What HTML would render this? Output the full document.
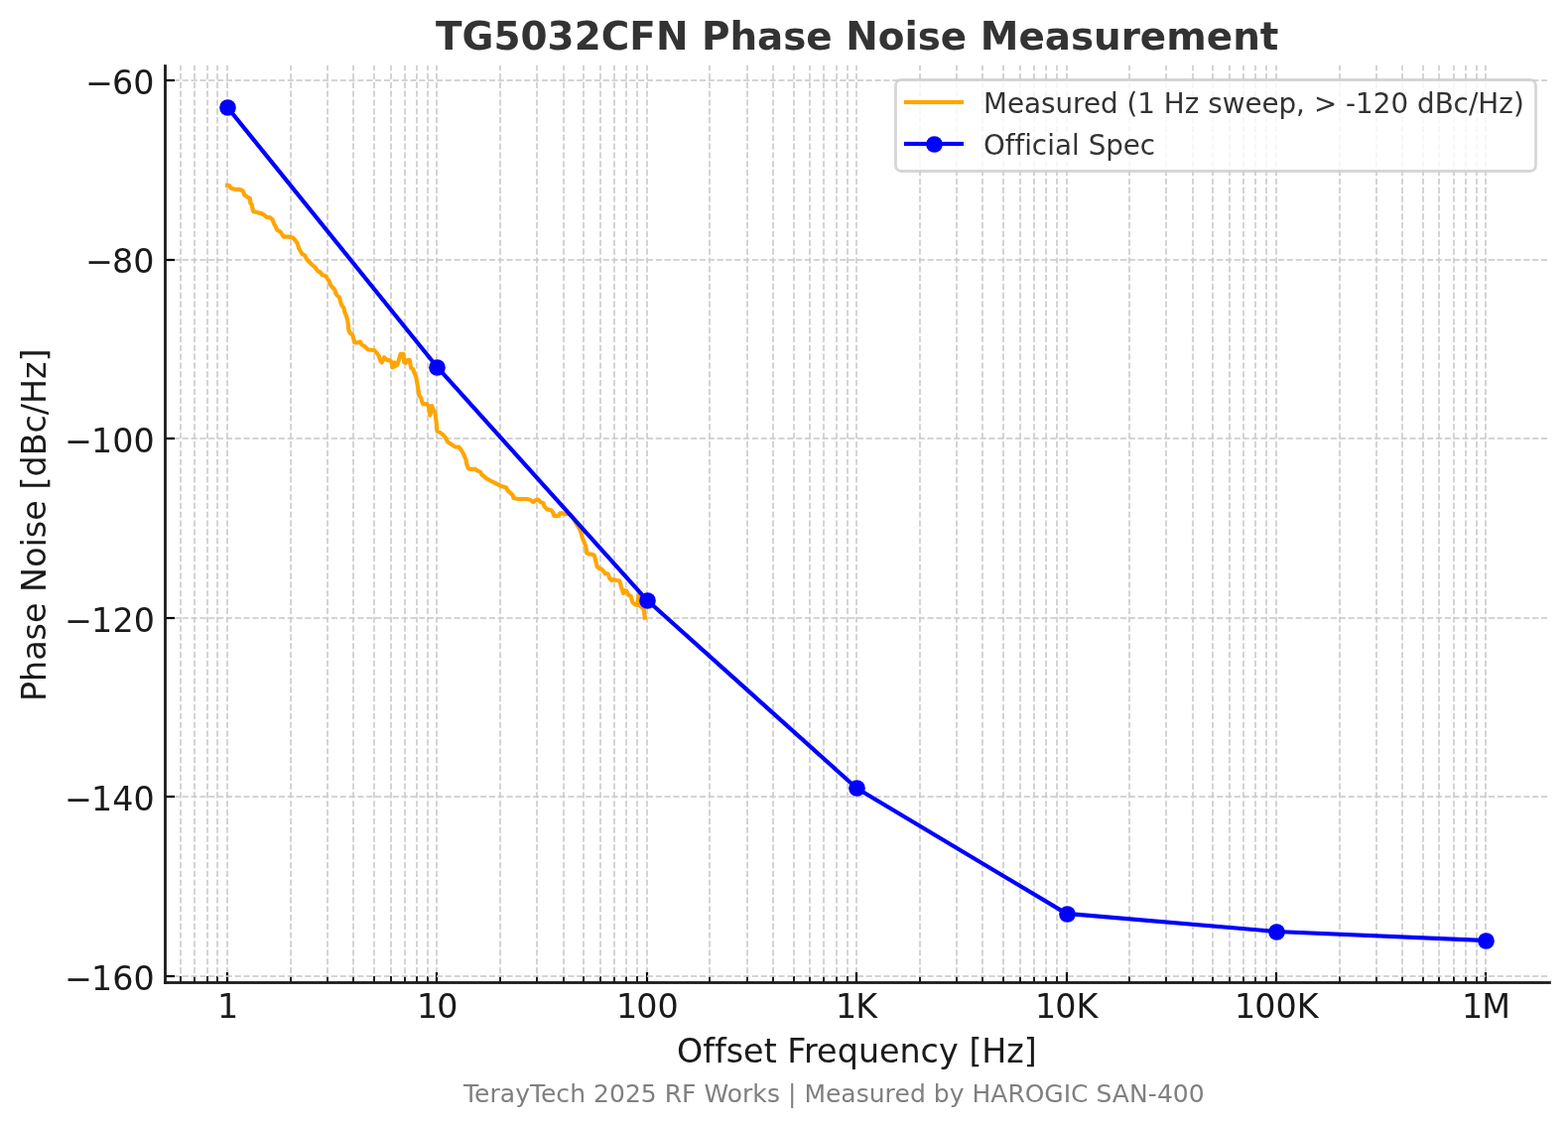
<!DOCTYPE html>
<html lang="en"><head><meta charset="utf-8">
<title>TG5032CFN Phase Noise Measurement</title>
<style>
html,body{margin:0;padding:0;background:#fff;}
body{width:1580px;height:1136px;overflow:hidden;}
svg{display:block;}
text{font-family:"DejaVu Sans","Liberation Sans",sans-serif;font-kerning:none;font-variant-ligatures:none;white-space:pre;}
</style></head><body>
<svg width="1580" height="1136" viewBox="0 0 1580 1136">
<rect x="0" y="0" width="1580" height="1136" fill="#ffffff"/>
<path d="M182 990V66M196 990V66M209 990V66M219 990V66M229 990V66M293 990V66M330 990V66M356 990V66M377 990V66M394 990V66M408 990V66M420 990V66M431 990V66M440 990V66M504 990V66M541 990V66M568 990V66M588 990V66M605 990V66M619 990V66M631 990V66M642 990V66M652 990V66M715 990V66M753 990V66M779 990V66M800 990V66M816 990V66M830 990V66M843 990V66M854 990V66M863 990V66M927 990V66M964 990V66M990 990V66M1011 990V66M1028 990V66M1042 990V66M1054 990V66M1065 990V66M1075 990V66M1138 990V66M1175 990V66M1202 990V66M1222 990V66M1239 990V66M1253 990V66M1265 990V66M1276 990V66M1286 990V66M1350 990V66M1387 990V66M1413 990V66M1434 990V66M1450 990V66M1465 990V66M1477 990V66M1488 990V66M1497 990V66" stroke="#cccccc" stroke-width="2" stroke-opacity="0.8335" stroke-dasharray="6.167 2.667" fill="none"/>
<g fill="#000000">
<rect x="181" y="984" width="2" height="6" fill-opacity="0.863"/>
<rect x="195" y="984" width="2" height="6" fill-opacity="0.863"/>
<rect x="208" y="984" width="2" height="6" fill-opacity="0.863"/>
<rect x="218" y="984" width="2" height="6" fill-opacity="0.863"/>
<rect x="228" y="980" width="2" height="10"/>
<rect x="227" y="980" width="4" height="10" fill-opacity="0.11"/>
<rect x="292" y="984" width="2" height="6" fill-opacity="0.863"/>
<rect x="329" y="984" width="2" height="6" fill-opacity="0.863"/>
<rect x="355" y="984" width="2" height="6" fill-opacity="0.863"/>
<rect x="376" y="984" width="2" height="6" fill-opacity="0.863"/>
<rect x="393" y="984" width="2" height="6" fill-opacity="0.863"/>
<rect x="407" y="984" width="2" height="6" fill-opacity="0.863"/>
<rect x="419" y="984" width="2" height="6" fill-opacity="0.863"/>
<rect x="430" y="984" width="2" height="6" fill-opacity="0.863"/>
<rect x="439" y="980" width="2" height="10"/>
<rect x="438" y="980" width="4" height="10" fill-opacity="0.11"/>
<rect x="503" y="984" width="2" height="6" fill-opacity="0.863"/>
<rect x="540" y="984" width="2" height="6" fill-opacity="0.863"/>
<rect x="567" y="984" width="2" height="6" fill-opacity="0.863"/>
<rect x="587" y="984" width="2" height="6" fill-opacity="0.863"/>
<rect x="604" y="984" width="2" height="6" fill-opacity="0.863"/>
<rect x="618" y="984" width="2" height="6" fill-opacity="0.863"/>
<rect x="630" y="984" width="2" height="6" fill-opacity="0.863"/>
<rect x="641" y="984" width="2" height="6" fill-opacity="0.863"/>
<rect x="651" y="980" width="2" height="10"/>
<rect x="650" y="980" width="4" height="10" fill-opacity="0.11"/>
<rect x="714" y="984" width="2" height="6" fill-opacity="0.863"/>
<rect x="752" y="984" width="2" height="6" fill-opacity="0.863"/>
<rect x="778" y="984" width="2" height="6" fill-opacity="0.863"/>
<rect x="799" y="984" width="2" height="6" fill-opacity="0.863"/>
<rect x="815" y="984" width="2" height="6" fill-opacity="0.863"/>
<rect x="829" y="984" width="2" height="6" fill-opacity="0.863"/>
<rect x="842" y="984" width="2" height="6" fill-opacity="0.863"/>
<rect x="853" y="984" width="2" height="6" fill-opacity="0.863"/>
<rect x="862" y="980" width="2" height="10"/>
<rect x="861" y="980" width="4" height="10" fill-opacity="0.11"/>
<rect x="926" y="984" width="2" height="6" fill-opacity="0.863"/>
<rect x="963" y="984" width="2" height="6" fill-opacity="0.863"/>
<rect x="989" y="984" width="2" height="6" fill-opacity="0.863"/>
<rect x="1010" y="984" width="2" height="6" fill-opacity="0.863"/>
<rect x="1027" y="984" width="2" height="6" fill-opacity="0.863"/>
<rect x="1041" y="984" width="2" height="6" fill-opacity="0.863"/>
<rect x="1053" y="984" width="2" height="6" fill-opacity="0.863"/>
<rect x="1064" y="984" width="2" height="6" fill-opacity="0.863"/>
<rect x="1074" y="980" width="2" height="10"/>
<rect x="1073" y="980" width="4" height="10" fill-opacity="0.11"/>
<rect x="1137" y="984" width="2" height="6" fill-opacity="0.863"/>
<rect x="1174" y="984" width="2" height="6" fill-opacity="0.863"/>
<rect x="1201" y="984" width="2" height="6" fill-opacity="0.863"/>
<rect x="1221" y="984" width="2" height="6" fill-opacity="0.863"/>
<rect x="1238" y="984" width="2" height="6" fill-opacity="0.863"/>
<rect x="1252" y="984" width="2" height="6" fill-opacity="0.863"/>
<rect x="1264" y="984" width="2" height="6" fill-opacity="0.863"/>
<rect x="1275" y="984" width="2" height="6" fill-opacity="0.863"/>
<rect x="1285" y="980" width="2" height="10"/>
<rect x="1284" y="980" width="4" height="10" fill-opacity="0.11"/>
<rect x="1349" y="984" width="2" height="6" fill-opacity="0.863"/>
<rect x="1386" y="984" width="2" height="6" fill-opacity="0.863"/>
<rect x="1412" y="984" width="2" height="6" fill-opacity="0.863"/>
<rect x="1433" y="984" width="2" height="6" fill-opacity="0.863"/>
<rect x="1449" y="984" width="2" height="6" fill-opacity="0.863"/>
<rect x="1464" y="984" width="2" height="6" fill-opacity="0.863"/>
<rect x="1476" y="984" width="2" height="6" fill-opacity="0.863"/>
<rect x="1487" y="984" width="2" height="6" fill-opacity="0.863"/>
<rect x="1496" y="980" width="2" height="10"/>
<rect x="1495" y="980" width="4" height="10" fill-opacity="0.11"/>
</g>
<path d="M166 984H1561M166 803H1561M166 623H1561M166 442H1561M166 262H1561M166 81H1561" stroke="#cccccc" stroke-width="2" stroke-opacity="0.8335" stroke-dasharray="6.167 2.667" fill="none"/>
<g fill="#000000">
<rect x="166" y="983" width="10" height="2"/>
<rect x="166" y="982" width="10" height="4" fill-opacity="0.11"/>
<rect x="166" y="802" width="10" height="2"/>
<rect x="166" y="801" width="10" height="4" fill-opacity="0.11"/>
<rect x="166" y="622" width="10" height="2"/>
<rect x="166" y="621" width="10" height="4" fill-opacity="0.11"/>
<rect x="166" y="441" width="10" height="2"/>
<rect x="166" y="440" width="10" height="4" fill-opacity="0.11"/>
<rect x="166" y="261" width="10" height="2"/>
<rect x="166" y="260" width="10" height="4" fill-opacity="0.11"/>
<rect x="166" y="80" width="10" height="2"/>
<rect x="166" y="79" width="10" height="4" fill-opacity="0.11"/>
</g>
<path d="M229.1 186.8L231 187L232.6 189.8L236.2 190.6L241.8 191.1L244.8 192.5L246.3 196.5L248.9 198.4L251.9 199.9L252.3 204.6L253.7 206.4L254.7 211.5L255.4 213.2L259 214.1L263.5 215.1L266.1 216.6L268.6 218.9L272.2 219.3L274.7 221.6L276.2 225.7L278.2 229.2L279.2 231.8L282.3 233.3L284.3 236.3L285.8 238.7L290.9 238.6L295.4 239.7L298 242.9L300 245.9L301 250L303 253.5L304.6 256.1L307.1 257.3L309.1 261.4L313.2 265.7L317.7 269.8L320.3 273.3L322.8 274.5L324.8 277.3L328.2 278.3L330.2 281.4L331.9 283.9L332.9 287L334.9 289.5L337.3 292L338.5 296.1L340 298.1L342 299.6L343 303.7L344.1 307.2L346.6 310.8L347.4 314.8L349.1 318.9L350.3 322.9L350.9 328L351.3 332.5L352.7 335.6L355.2 337.6L356.2 341.1L357.2 345.2L360 345.4L363 344.5L364.5 347.5L367.6 349.2L370.6 352.3L374.2 352.8L377.2 353.1L379.7 355.8L381.8 358.9L382.8 362.4L384.6 365.4L386 362.9L387.1 360.2L389.4 362.6L392.9 363.4L394.6 365L395.5 370.4L396.6 369.8L397.8 365.4L398.8 368.8L400.3 367.8L401.3 364.6L402.5 360.9L403.5 356.8L406.4 356.8L406.9 361L407.3 365.3L409 365.8L410.6 363.1L412.7 362.8L413.5 367L414.2 371L416.2 372L417.5 376.1L419.2 379.6L419.9 383.7L420.6 387.7L421.3 391.8L422 395.8L422.3 398.9L424.3 400.9L425.3 404.9L426.3 407.5L429.9 407.2L431.9 409L432.4 413L433.4 418.6L434.4 414.1L435.1 409L437 414.1L438.5 416.1L439 420.5L439.8 427.1L440.3 434.2L443.9 436.2L447.4 439.3L449.9 442.8L450.8 445.3L454.8 447.8L458.4 450.4L462.4 450.6L464.9 453.9L467.5 458.5L469.5 463.5L470.5 468.6L472 472.2L474.1 472.9L478.6 472.9L481.6 474.7L484.2 475.9L485.7 478.7L488.7 480.8L489.7 482L493.8 484.3L498.9 486.8L504.9 489.9L510 491.4L512 494.9L516.6 499L517.6 502L522.2 503L530.3 503L534.3 503.8L537.3 506.1L540 504L542.4 503.6L544.7 506.1L547.6 507.2L548.4 510.3L551.3 513.4L555.3 514.3L557.4 516.9L558.3 520L563.1 519.9L564.3 517.3L566.8 517.3L568.5 518.3L571.3 518L573.2 517.5L575.2 519.2L577 521.3L578.6 523.8L580.5 527.5L583.2 531.9L585.3 536.1L586.3 540.3L588 545.1L589.8 549.3L590.8 553.5L591.2 557.3L592.9 558.4L596.4 558.8L598.8 559.7L599.8 563.6L601 568.2L601.7 571L603.4 572.8L606.3 573.8L608.4 576.2L609.6 578.1L612.5 578.4L613.4 580.9L614.4 583.1L616 585L618.5 584.1L621.1 585L623.9 585.3L624.9 587.2L625.5 590.1L626.4 593L627.4 595.5L628 598L629.3 595.2L631.2 595.5L632.5 598L633.7 599.9L635.6 600.9L636.6 604.4L637.5 607.2L639.8 609.2L642.1 610L642.9 604.4L643.5 599.6L645.1 610.7L648.6 613.9L649.3 618.3L649.8 622.6" fill="none" stroke="#ffa500" stroke-width="4.17" stroke-linejoin="round" stroke-linecap="square"/>
<path d="M229.12 108L440.48 369.94L651.84 604.77L863.21 794.45L1074.57 920.9L1285.94 938.97L1497.3 948" fill="none" stroke="#0000ff" stroke-width="4.17" stroke-linejoin="round" stroke-linecap="square"/>
<g fill="#0000ff">
<circle cx="229.5" cy="108.5" r="8.33"/>
<circle cx="440.5" cy="370.5" r="8.33"/>
<circle cx="652.5" cy="605.5" r="8.33"/>
<circle cx="863.5" cy="794.5" r="8.33"/>
<circle cx="1075.5" cy="921.5" r="8.33"/>
<circle cx="1286.5" cy="939.5" r="8.33"/>
<circle cx="1497.5" cy="948.5" r="8.33"/>
</g>
<g fill="#1a1a1a">
<rect x="165" y="66" width="3" height="926" fill-opacity="0.895"/>
<rect x="166" y="66" width="1" height="926"/>
<rect x="165" y="65" width="3" height="1" fill-opacity="0.8"/>
<rect x="165" y="989" width="1397" height="3" fill-opacity="0.895"/>
<rect x="165" y="990" width="1397" height="1"/>
<rect x="1562" y="989" width="1" height="3" fill-opacity="0.8"/>
</g>
<text x="218.99" y="1025.5" font-size="33.33" fill="#1a1a1a">1</text>
<text x="419.98 440.23" y="1025.5" font-size="33.33" fill="#1a1a1a">10</text>
<text x="620.97 641.22 662.47" y="1025.5" font-size="33.33" fill="#1a1a1a">100</text>
<text x="841.9 862.15" y="1025.5" font-size="33.33" fill="#1a1a1a">1K</text>
<text x="1042.88 1063.13 1084.38" y="1025.5" font-size="33.33" fill="#1a1a1a">10K</text>
<text x="1244.12 1264.37 1285.62 1306.87" y="1025.5" font-size="33.33" fill="#1a1a1a">100K</text>
<text x="1473.05 1493.3" y="1025.5" font-size="33.33" fill="#1a1a1a">1M</text>
<text x="65.25 92 113.25 134.5" y="998.33" font-size="33.33" fill="#1a1a1a">−160</text>
<text x="65.25 92 113.25 134.5" y="816.68" font-size="33.33" fill="#1a1a1a">−140</text>
<text x="65.25 92.12 113.38 134.75" y="637.04" font-size="33.33" fill="#1a1a1a">−120</text>
<text x="65.25 92 113.25 134.5" y="456.39" font-size="33.33" fill="#1a1a1a">−100</text>
<text x="86.25 113.12 134.25" y="274.75" font-size="33.33" fill="#1a1a1a">−80</text>
<text x="86.25 113 134.25" y="95.1" font-size="33.33" fill="#1a1a1a">−60</text>
<text x="682.08 708.33 720.08 731.83 748.96 769.71 782.71 793.33 809.96 822.96 843.71 864.96 886.08 906.58 927.46 946.08 965.83 976.46 989.21 1014.21 1031.83" y="1071.3" font-size="33.33" fill="#1a1a1a">Offset Frequency [Hz]</text>
<text transform="translate(45.5 528) rotate(-90)" x="-179 -158.88 -137.75 -117.38 -100 -79.25 -68.88 -43.75 -23.38 -14.25 3.25 24 34.62 47.62 68.88 91.5 109.88 121.12 146.12 163.5" y="0" font-size="33.33" fill="#1a1a1a">Phase Noise [dBc/Hz]</text>
<text x="439.02 465.4 497.52 524.52 551.52 578.65 605.77 634.27 660.9 693.52 707.02 735.52 762.9 789.27 812.15 838.77 852.27 884.65 911.52 924.77 947.65 974.27 987.77 1026.52 1052.65 1079.02 1101.9 1129.77 1148.65 1175.27 1215.65 1242.27 1269.65" y="50" font-size="38.89" fill="#333333" font-weight="bold">TG5032CFN Phase Noise Measurement</text>
<text x="466.89 478.01 493.39 503.76 519.26 534.01 544.89 560.26 574.26 589.89 597.89 613.89 630.01 645.76 661.51 669.76 686.89 701.39 709.39 732.64 747.89 758.26 773.01 785.89 793.89 802.26 810.51 831.89 847.26 862.76 875.64 891.51 901.39 917.01 932.64 940.64 956.76 971.26 979.51 998.14 1015.51 1032.64 1052.26 1071.76 1079.01 1096.39 1104.39 1120.76 1137.89 1156.64 1166.01 1181.76 1197.64" y="1111" font-size="25" fill="#808080">TerayTech 2025 RF Works | Measured by HAROGIC SAN-400</text>
<rect x="902.5" y="80.5" width="645" height="92" rx="5.56" ry="5.56" fill="#ffffff" fill-opacity="0.8" stroke="#cccccc" stroke-opacity="0.8" stroke-width="2.78"/>
<rect x="911" y="101" width="60" height="4" fill="#ffa500"/>
<rect x="910.92" y="100" width="60.16" height="6" fill="#ffa500" fill-opacity="0.083"/>
<rect x="911" y="143" width="60" height="4" fill="#0000ff"/>
<rect x="910.92" y="142" width="60.16" height="6" fill="#0000ff" fill-opacity="0.083"/>
<circle cx="941.5" cy="145.5" r="8.33" fill="#0000ff"/>
<text x="991 1015 1032 1049 1063.5 1081.12 1092 1109 1126.62 1135.5 1146.25 1163.88 1172.75 1193.75 1208.38 1217.25 1231.75 1254.5 1271.5 1288.5 1306.12 1315 1323.88 1347.25 1356.12 1366.12 1383.75 1401.38 1419.12 1428 1445.75 1464.5 1480 1489.25 1510.25 1525" y="113.5" font-size="27.78" fill="#333333">Measured (1 Hz sweep, &gt; -120 dBc/Hz)</text>
<text x="991 1012.75 1022.5 1032.25 1039.75 1055.25 1063 1080 1087.75 1096.75 1114.25 1131.75 1148.75" y="156.2" font-size="27.78" fill="#333333">Official Spec</text>
</svg>
</body></html>
